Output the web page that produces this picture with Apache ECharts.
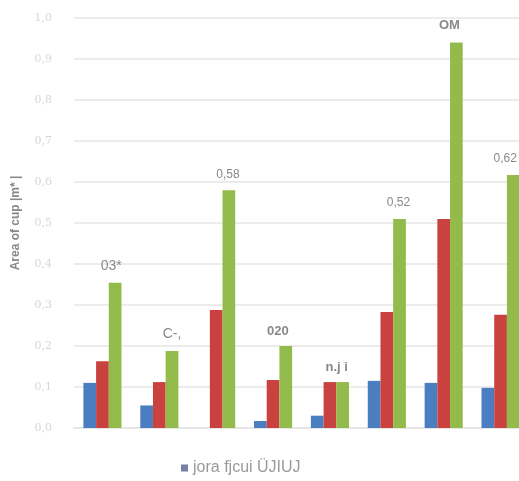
<!DOCTYPE html>
<html><head><meta charset="utf-8">
<script src="https://cdn.jsdelivr.net/npm/echarts@6/dist/echarts.min.js"></script>
<style>html,body{margin:0;padding:0;background:#fff;overflow:hidden;width:519px;height:481px}#c{width:560px;height:481px}</style>
</head><body><div id="c"></div>
<script>
const categories = ['A','B','C','D','E','F','G','H'];
const blueValues = [0.11, 0.055, 0, 0.017, 0.03, 0.115, 0.11, 0.098];
const redValues = [0.163, 0.112, 0.288, 0.117, 0.112, 0.283, 0.51, 0.276];
const greenValues = [0.354, 0.188, 0.58, 0.2, 0.112, 0.51, 0.94, 0.617];
const greenLabels = ['03*', 'C-,', '0,58', '020', 'n.j i', '0,52', 'OM', '0,62'];
const yTicks = [0, 0.1, 0.2, 0.3, 0.4, 0.5, 0.6, 0.7, 0.8, 0.9, 1.0];
const legendName = 'jora fjcui ÜJIUJ';

const boldIdx = [3, 4, 6];
const labelShift = [-4, 0, -1, -8, -6, -1, -7, -8];
const chart = echarts.init(document.getElementById('c'));
chart.setOption({
  animation: false,
  grid: {left: 74, width: 455, top: 18, bottom: 53},
  legend: {
    data: [{name: legendName, itemStyle: {color: '#7480a6'}}], top: 460, left: 181, icon: 'rect',
    itemWidth: 7, itemHeight: 7, itemGap: 4, padding: 0,
    textStyle: {color: '#9a9a9a', fontSize: 16, fontFamily: 'Liberation Sans', padding: [0, 0, 0, 0]}
  },
  xAxis: {
    type: 'category', data: categories,
    axisLine: {lineStyle: {color: '#e6e6e6', width: 2}},
    axisTick: {show: false}, axisLabel: {show: false}
  },
  yAxis: {
    type: 'value', min: 0, max: 1, interval: 0.1,
    name: 'Area of cup |m* |', nameLocation: 'middle', nameGap: 52, nameRotate: 90,
    nameTextStyle: {color: '#888', fontSize: 12, fontWeight: 'bold', fontFamily: 'Liberation Sans'},
    axisLabel: {
      color: '#d6d6d6', fontSize: 11, fontFamily: 'DejaVu Serif', margin: 22,
      formatter: v => { const t = yTicks.find(x => Math.abs(x - v) < 1e-6); return t === undefined ? '' : t.toFixed(1).replace('.', ','); }
    },
    axisLine: {show: false}, axisTick: {show: false},
    splitLine: {lineStyle: {color: '#ececec', width: 2}}
  },
  series: [
    {name: legendName, type: 'bar', data: blueValues, barGap: '0%', barCategoryGap: '33%',
     itemStyle: {color: '#4a7ec0'}},
    {name: 'red', type: 'bar', data: redValues, itemStyle: {color: '#c9423f'}},
    {name: 'green', type: 'bar', data: greenValues.map((v, i) => ({
      value: v,
      label: {
        show: true, position: 'top', distance: i === 6 ? 11 : (boldIdx.includes(i) ? 8 : 10),
        formatter: () => greenLabels[i],
        color: '#888',
        fontWeight: boldIdx.includes(i) ? 'bold' : 'normal',
        fontSize: boldIdx.includes(i) ? 13 : (i === 0 || i === 1 ? 14 : 12),
        fontFamily: 'Liberation Sans',
        offset: [labelShift[i], 0]
      }
    })), itemStyle: {color: '#93bb4b'}}
  ]
});
</script></body></html>
